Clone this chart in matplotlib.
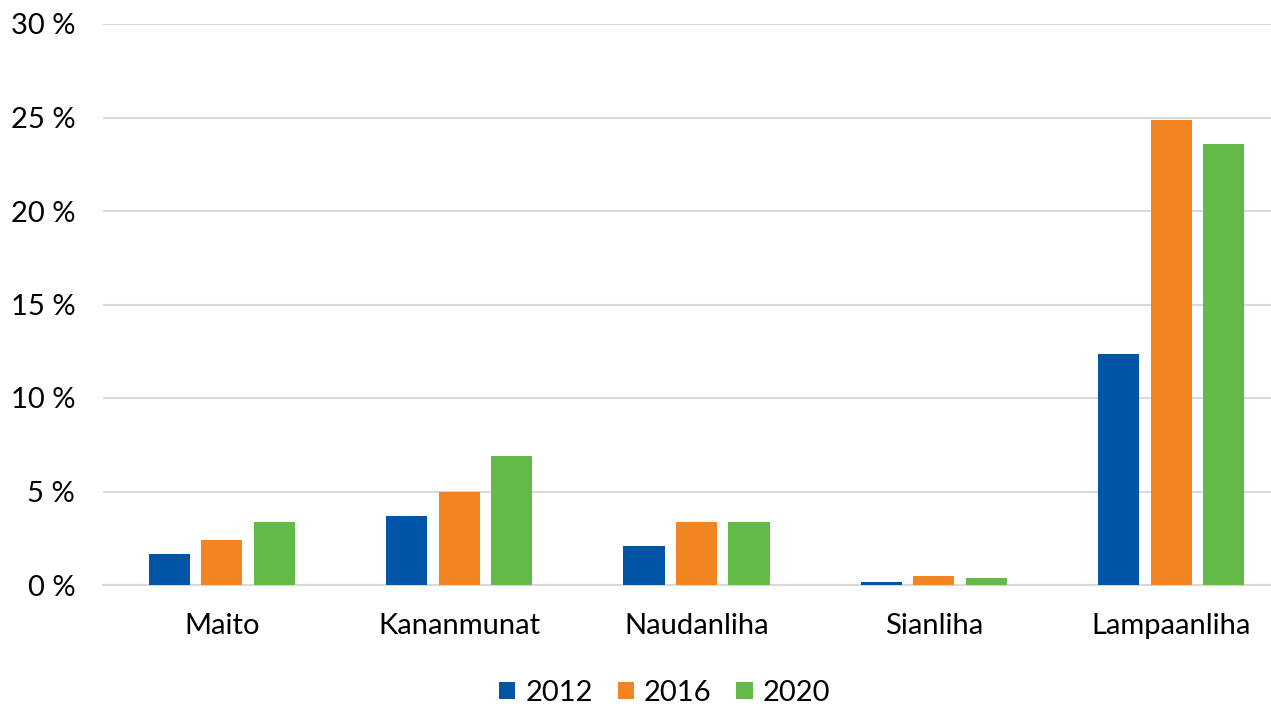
import numpy as np
import matplotlib.pyplot as plt
from matplotlib.ticker import FuncFormatter

tuotteet = ['Maito', 'Kananmunat', 'Naudanliha', 'Sianliha', 'Lampaanliha']
vuodet = ['2012', '2016', '2020']
arvot_2012 = [1.66, 3.68, 2.07, 0.16, 12.37]
arvot_2016 = [2.39, 5.0, 3.38, 0.48, 24.88]
arvot_2020 = [3.36, 6.88, 3.36, 0.39, 23.6]
varit = ['#0055A6', '#F28422', '#62BB46']

plt.rcParams['font.family'] = ['Lato', 'DejaVu Sans']

fig = plt.figure(figsize=(12.71, 7.06), dpi=100)
# akselit ulottuvat hieman kuvan oikean reunan yli, kuten alkuperäisessä
ax = fig.add_axes([103 / 1271, 1 - 585 / 706, 1187 / 1271, 561 / 706])

x = np.arange(len(tuotteet))
leveys = 0.173
vali = 0.221
for i, (sarja, vari) in enumerate(zip([arvot_2012, arvot_2016, arvot_2020], varit)):
    ax.bar(x + (i - 1) * vali, sarja, leveys, color=vari, label=vuodet[i], zorder=3)

ax.set_xlim(-0.5, 4.5)
ax.set_ylim(0, 30)
ax.set_yticks(range(0, 31, 5))
ax.yaxis.set_major_formatter(FuncFormatter(lambda v, p: f'{int(v)} %'))
ax.set_xticks(x)
ax.set_xticklabels(tuotteet)
ax.grid(axis='y', color='#D9D9D9', linewidth=1.5, zorder=0)
for s in ['top', 'right', 'left']:
    ax.spines[s].set_visible(False)
ax.spines['bottom'].set_color('#D9D9D9')
ax.spines['bottom'].set_linewidth(1.5)
ax.tick_params(axis='both', length=0, labelsize=21, colors='black')
ax.tick_params(axis='y', pad=20)
ax.tick_params(axis='x', pad=20)

fig.legend(loc='center', bbox_to_anchor=(0.523, 1 - 693 / 706), ncol=3, frameon=False,
           fontsize=21, handlelength=0.55, handleheight=0.55, handletextpad=0.35,
           columnspacing=0.85)

fig.savefig('out.png', dpi=100)
